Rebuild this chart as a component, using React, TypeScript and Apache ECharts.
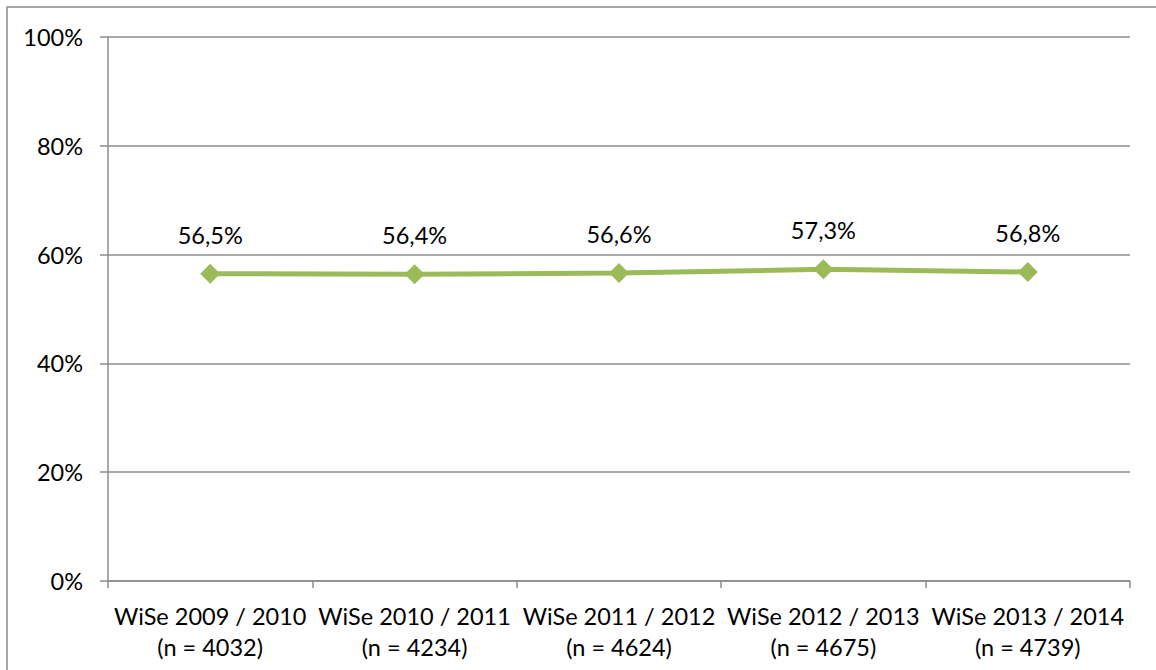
import React, { useEffect, useRef } from "react";
import * as echarts from "echarts";

const categories = [
  "WiSe 2009 / 2010",
  "WiSe 2010 / 2011",
  "WiSe 2011 / 2012",
  "WiSe 2012 / 2013",
  "WiSe 2013 / 2014",
];
const sampleSizes = [4032, 4234, 4624, 4675, 4739];
const shares = [56.5, 56.4, 56.6, 57.3, 56.8];
const yTicks = { min: 0, max: 100, interval: 20 };

const FONT = "Lato";
const GRAY = "#8c8c8c";

export default function App() {
  const ref = useRef<HTMLDivElement>(null);
  useEffect(() => {
    if (!ref.current) return;
    const chart = echarts.init(ref.current, null, { renderer: "svg" });
    const labels = categories.map((c, i) => `${c}\n(n = ${sampleSizes[i]})`);
    chart.setOption({
      animation: false,
      backgroundColor: "#ffffff",
      textStyle: { fontFamily: FONT },
      graphic: [
        {
          type: "rect",
          shape: { x: 7, y: 7, width: 1170, height: 690 },
          style: { fill: "none", stroke: GRAY, lineWidth: 1.5 },
          silent: true,
        },
      ],
      grid: { left: 108, right: 26, top: 37, bottom: 89, containLabel: false },
      xAxis: {
        type: "category",
        data: labels,
        boundaryGap: true,
        axisLine: { lineStyle: { color: GRAY, width: 1.5 } },
        axisTick: { show: true, alignWithLabel: false, length: 7, lineStyle: { color: GRAY, width: 1.5 } },
        axisLabel: {
          color: "#000",
          fontFamily: FONT,
          fontSize: 23.5,
          lineHeight: 31,
          margin: 19,
          interval: 0,
        },
        splitLine: { show: false },
      },
      yAxis: {
        type: "value",
        min: yTicks.min,
        max: yTicks.max,
        interval: yTicks.interval,
        axisLine: { show: true, lineStyle: { color: GRAY, width: 1.5 } },
        axisTick: { show: true, length: 8, lineStyle: { color: GRAY, width: 1.5 } },
        axisLabel: {
          color: "#000",
          fontFamily: FONT,
          fontSize: 23.5,
          margin: 25,
          formatter: "{value}%",
        },
        splitLine: { show: true, lineStyle: { color: GRAY, width: 1.5 } },
      },
      series: [
        {
          type: "line",
          data: shares,
          symbol: "diamond",
          symbolSize: 20,
          lineStyle: { color: "#9bbb59", width: 5 },
          itemStyle: { color: "#9bbb59" },
          label: {
            show: true,
            position: "top",
            distance: 17,
            color: "#000",
            fontFamily: FONT,
            fontSize: 23.5,
            formatter: (p: any) => `${Number(p.value).toFixed(1).replace(".", ",")}%`,
          },
        },
      ],
    });
    return () => chart.dispose();
  }, []);
  return (
    <div
      ref={ref}
      style={{ position: "absolute", left: 0, top: 0, width: 1156, height: 670 }}
    />
  );
}
